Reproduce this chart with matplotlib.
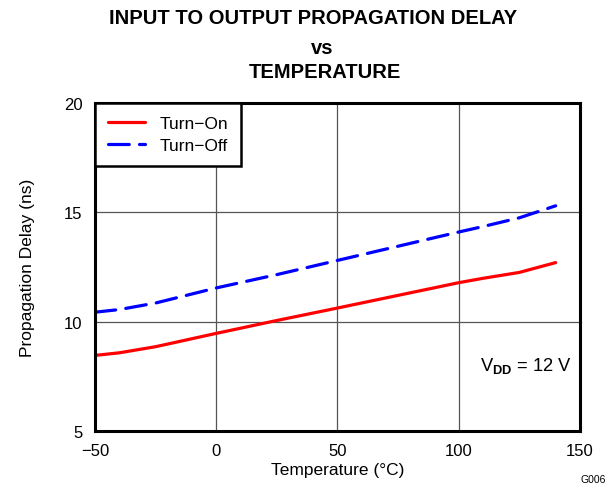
import matplotlib
matplotlib.use("Agg")
import matplotlib.pyplot as plt

plt.rcParams['font.family'] = ['Liberation Sans', 'DejaVu Sans']
plt.rcParams['mathtext.fontset'] = 'custom'
plt.rcParams['mathtext.rm'] = 'Liberation Sans'
plt.rcParams['mathtext.bf'] = 'Liberation Sans:bold'

# temperature in degC, delay in ns
temps = [-50, -40, -25, 0, 25, 50, 75, 100, 110, 125, 140]
turn_on = [8.45, 8.57, 8.85, 9.46, 10.05, 10.62, 11.2, 11.78, 11.98, 12.25, 12.7]
turn_off = [10.43, 10.55, 10.85, 11.54, 12.15, 12.8, 13.45, 14.1, 14.35, 14.75, 15.3]

xticks = [-50, 0, 50, 100, 150]
yticks = [5, 10, 15, 20]

fig = plt.figure(figsize=(6.13, 4.89), dpi=100)
ax = fig.add_axes([0.155, 0.117, 0.791, 0.67])

ax.plot(temps, turn_on, color='#ff0000', lw=2.3, label='Turn\u2212On', solid_capstyle='round')
ax.plot(temps, turn_off, color='#0000ff', lw=2.3, label='Turn\u2212Off',
        linestyle=(0, (6.5, 3.2)), dash_capstyle='round')

ax.set_xlim(-50, 150)
ax.set_ylim(5, 20)
ax.set_xticks(xticks)
ax.set_yticks(yticks)
ax.set_xticklabels(['\u221250', '0', '50', '100', '150'])
ax.tick_params(length=0, labelsize=12, pad=9)
ax.grid(True, color='#555555', lw=0.9)
ax.set_axisbelow(True)
for s in ax.spines.values():
    s.set_linewidth(2.2)

ax.set_xlabel('Temperature (\u00b0C)', fontsize=12.5, labelpad=3)
ax.set_ylabel('Propagation Delay (ns)', fontsize=12.5, labelpad=21)

leg = ax.legend(loc='upper left', fontsize=12.5, fancybox=False, framealpha=1,
                edgecolor='black', handlelength=2.15, borderaxespad=0,
                handletextpad=0.85, borderpad=0.72, labelspacing=0.42)
leg.get_frame().set_linewidth(1.8)

ax.text(0.984, 0.2, r'V$_{\mathbf{DD}}$ = 12 V', transform=ax.transAxes,
        ha='right', va='center', fontsize=13.2)

fig.text(313 / 613, 1 - 18.5 / 489, 'INPUT TO OUTPUT PROPAGATION DELAY', ha='center', va='center',
         fontsize=14.5, fontweight='bold')
fig.text(322 / 613, 1 - 48.7 / 489, 'vs', ha='center', va='center', fontsize=14.5, fontweight='bold')
fig.text(325 / 613, 1 - 72.5 / 489, 'TEMPERATURE', ha='center', va='center', fontsize=14.5, fontweight='bold')
fig.text(0.988, 0.018, 'G006', ha='right', va='center', fontsize=7.5)

fig.savefig('out.png', dpi=100)
